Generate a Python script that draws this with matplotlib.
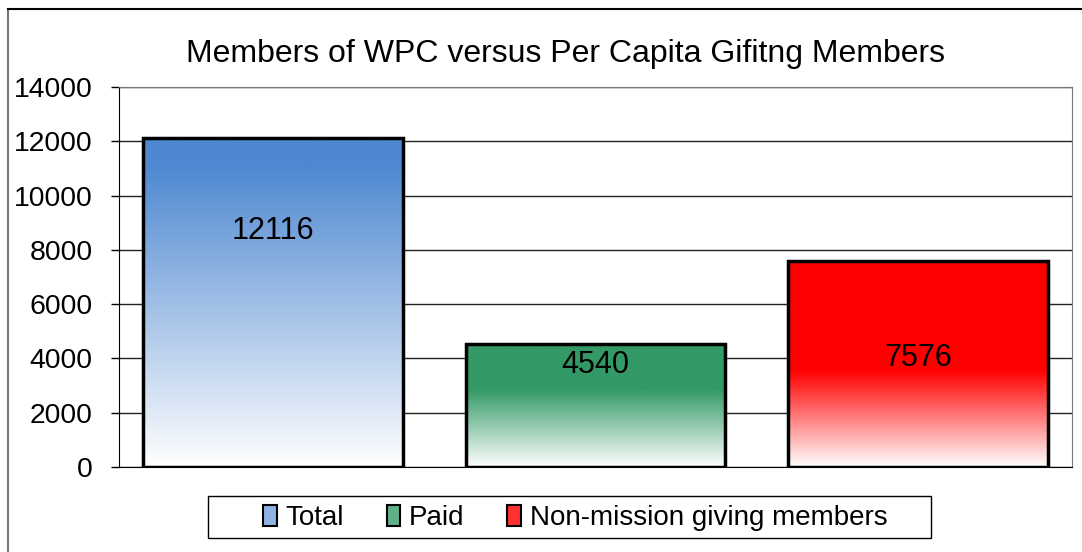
import matplotlib
matplotlib.use("Agg")
import matplotlib.pyplot as plt
import numpy as np
from matplotlib.colors import LinearSegmentedColormap
from matplotlib.patches import Patch, Rectangle
from matplotlib.lines import Line2D

plt.rcParams['font.family'] = ['Liberation Sans', 'DejaVu Sans']

# Данные графика
categories = ["Total", "Paid", "Non-mission giving members"]
values = [12116, 4540, 7576]
title = "Members of WPC versus Per Capita Gifitng Members"
yticks = [0, 2000, 4000, 6000, 8000, 10000, 12000, 14000]

# Цвета: верхний цвет и доля высоты (снизу), выше которой цвет сплошной
top_colors = ["#4E88D1", "#339966", "#FF0000"]
solid_from = [0.92, 0.63, 0.47]
legend_colors = ["#8DB2E3", "#5FAF87", "#FF3030"]
# Положение подписей значений (в единицах оси y)
label_y = [8700, 3750, 4000]

W, H = 1082, 552
fig = plt.figure(figsize=(W / 100, H / 100), dpi=100)
ax = fig.add_axes([119 / W, (H - 467) / H, (1072 - 119) / W, (467 - 87) / H])

bar_w = 0.806
bars = ax.bar(range(len(values)), values, width=bar_w, facecolor="none",
              edgecolor="black", linewidth=2.5, zorder=3)

# Градиентная заливка каждого столбца
for bar, col, sf in zip(bars, top_colors, solid_from):
    cmap = LinearSegmentedColormap.from_list(
        "g", [(0, "#FFFFFF"), (sf, col), (1, col)])
    grad = np.linspace(0, 1, 256).reshape(-1, 1)
    x0, y0 = bar.get_x(), bar.get_y()
    im = ax.imshow(grad, cmap=cmap, origin="lower", aspect="auto",
                   extent=[x0, x0 + bar.get_width(), y0, y0 + bar.get_height()],
                   zorder=2, vmin=0, vmax=1)
    im.set_clip_path(bar)

for i, (v, ly) in enumerate(zip(values, label_y)):
    ax.text(i, ly, str(v), ha="center", va="center", fontsize=22, zorder=4)

ax.set_xlim(-0.4775, 2.4775)
ax.set_ylim(0, 14000)
ax.set_yticks(yticks)
ax.set_yticklabels([str(t) for t in yticks])
ax.tick_params(axis="y", labelsize=20.4, length=6, width=1, pad=13, direction="out")
ax.set_xticks([])
ax.grid(axis="y", color="#222222", linewidth=1)
ax.set_axisbelow(True)
for s in ["top", "right"]:
    ax.spines[s].set_color("#777777")
ax.spines["left"].set_color("black")
ax.spines["bottom"].set_color("black")

fig.text(565 / W, 1 - 54 / H, title, ha="center", va="center", fontsize=23)

# Легенда без рамки + отдельная рамка
handles = [Patch(facecolor=c, edgecolor="black", linewidth=1.5) for c in legend_colors]
leg = fig.legend(handles, categories, loc="center", bbox_to_anchor=(575 / W, 1 - 518 / H),
                 ncol=3, fontsize=20, frameon=False,
                 handlelength=0.5, handleheight=0.8, handletextpad=0.3, columnspacing=1.55,
                 borderpad=0.2)
fig.add_artist(Rectangle((208 / W, 1 - 538 / H), (931 - 208) / W, (538 - 496) / H,
                         transform=fig.transFigure, facecolor="none",
                         edgecolor="black", linewidth=1))

# Рамка вокруг диаграммы
fig.add_artist(Line2D([8 / W, 8 / W], [0, 1 - 9 / H], transform=fig.transFigure,
                      color="#777777", linewidth=1.5))
fig.add_artist(Line2D([8 / W, 1], [1 - 9 / H, 1 - 9 / H], transform=fig.transFigure,
                      color="black", linewidth=1.5))

fig.savefig("out.png", dpi=100)
